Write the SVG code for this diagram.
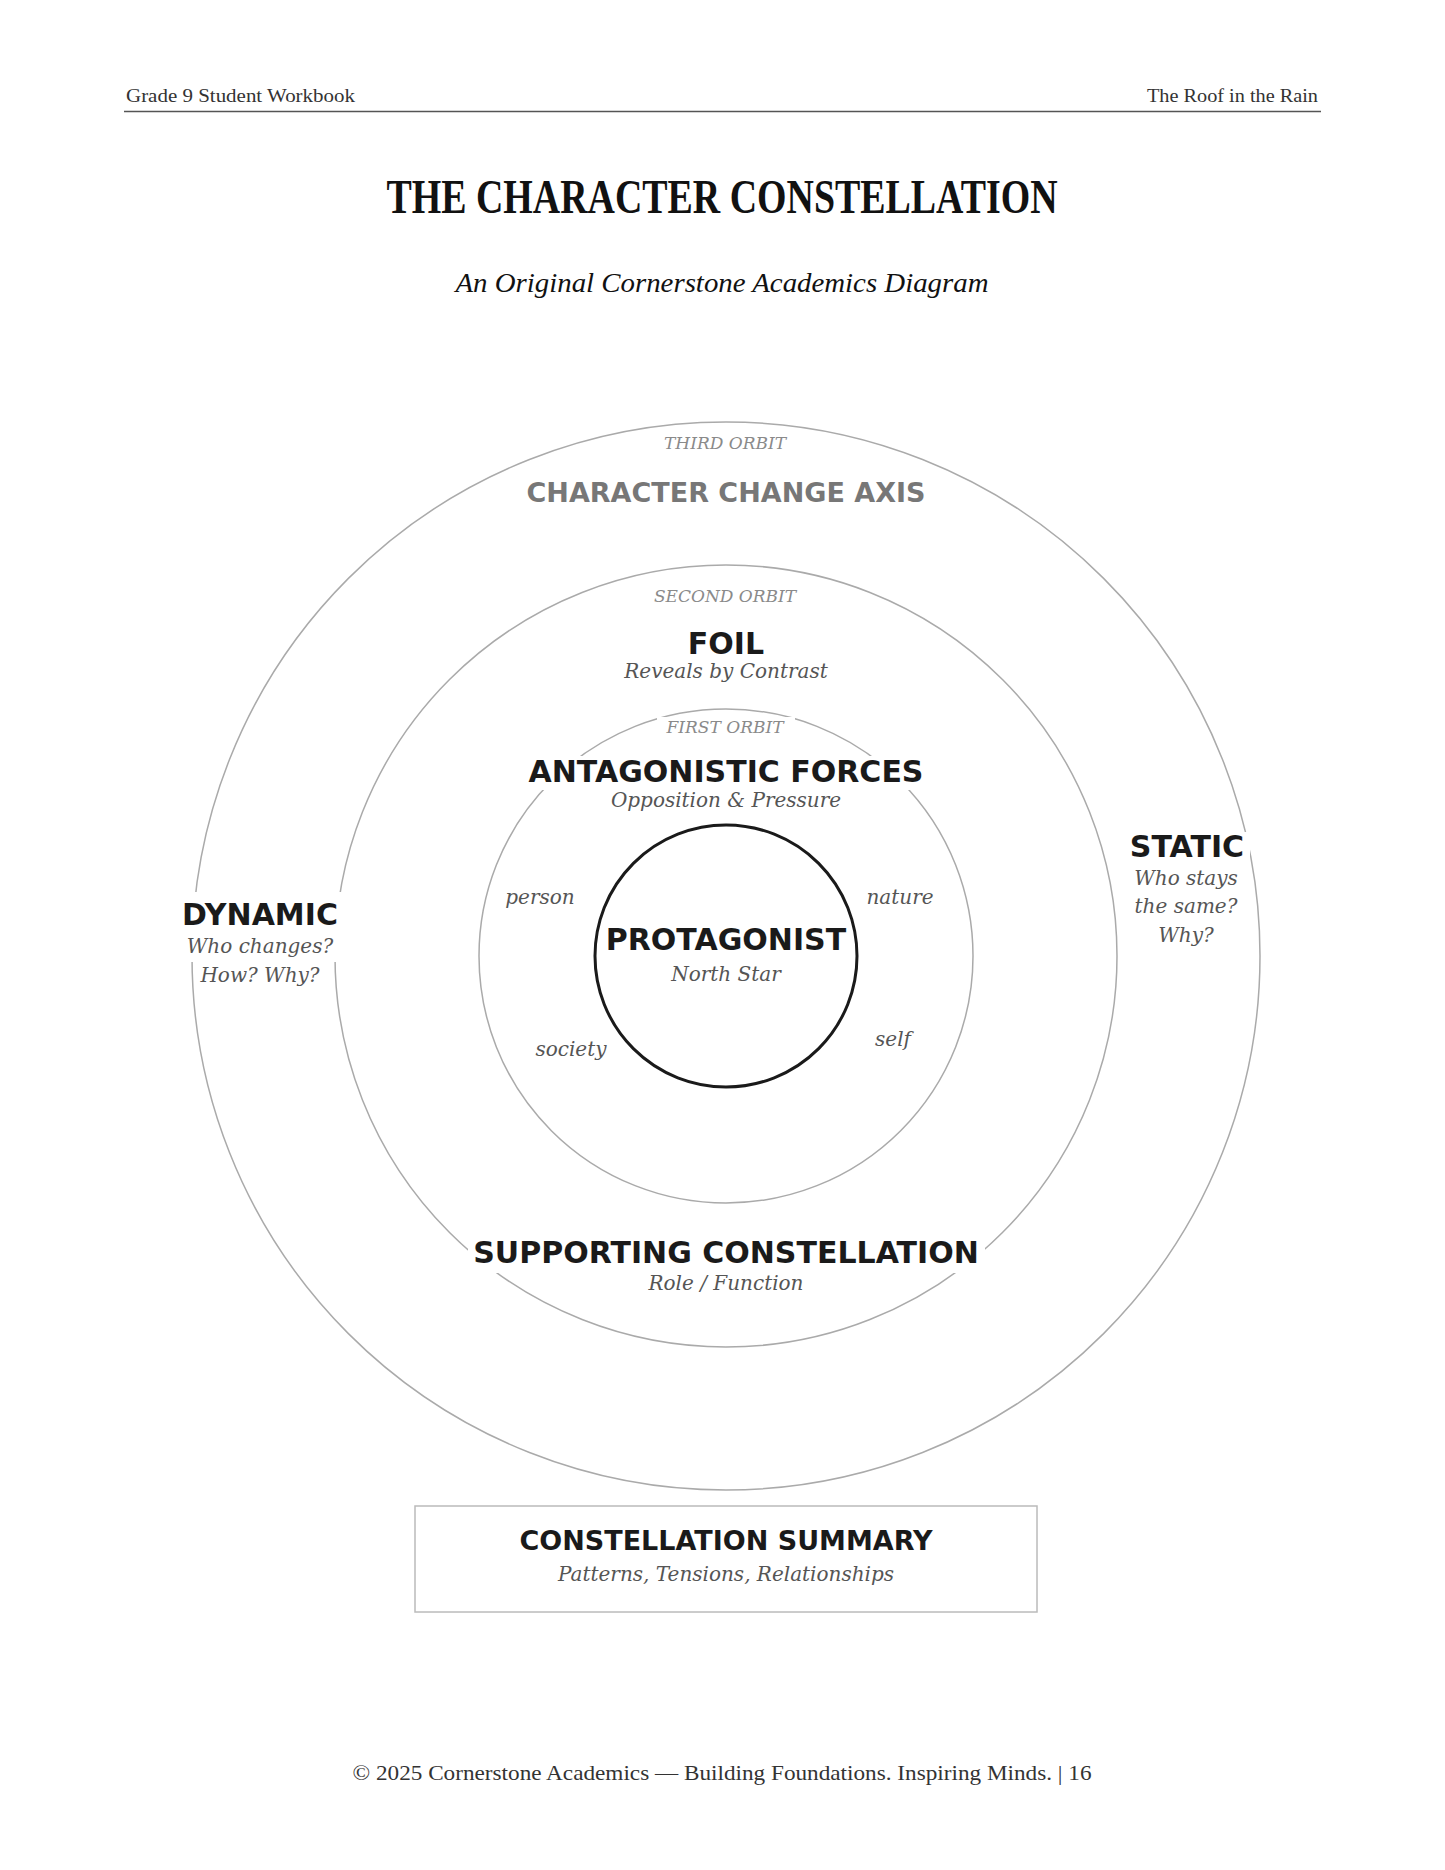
<svg xmlns="http://www.w3.org/2000/svg" width="1445" height="1870" viewBox="0 0 1445 1870">
<style>
.hdr{font-family:"Liberation Serif",serif;font-size:19px;fill:#333}
.ttl{font-family:"Liberation Serif",serif;font-weight:bold;font-size:48px;fill:#111}
.sub{font-family:"Liberation Serif",serif;font-style:italic;font-size:28px;fill:#111}
.orb{font-family:"DejaVu Serif",serif;font-style:italic;font-size:17px;fill:#8a8a8a}
.big{font-family:"DejaVu Sans",sans-serif;font-weight:bold;font-size:30px;fill:#1a1a1a}
.axis{font-family:"DejaVu Sans",sans-serif;font-weight:bold;font-size:27px;fill:#777}
.it{font-family:"DejaVu Serif",serif;font-style:italic;font-size:20px;fill:#555}
.ring{fill:none;stroke:#aaa;stroke-width:1.5}
.mask{fill:#fff}
.ftr{font-family:"Liberation Serif",serif;font-size:22px;fill:#333}
</style>
<rect width="1445" height="1870" fill="#fff"/>
<g id="header">
<text class="hdr" x="126" y="102" textLength="229" lengthAdjust="spacingAndGlyphs">Grade 9 Student Workbook</text>
<text class="hdr" x="1318" y="102" text-anchor="end" textLength="171" lengthAdjust="spacingAndGlyphs">The Roof in the Rain</text>
<line x1="124" y1="111.5" x2="1321" y2="111.5" stroke="#555" stroke-width="1.5"/>
</g>
<g id="title">
<text class="ttl" x="722" y="213" text-anchor="middle" textLength="671" lengthAdjust="spacingAndGlyphs">THE CHARACTER CONSTELLATION</text>
<text class="sub" x="722" y="292" text-anchor="middle" textLength="533" lengthAdjust="spacingAndGlyphs">An Original Cornerstone Academics Diagram</text>
</g>
<g id="orbits">
<circle id="third-orbit" class="ring" cx="726" cy="956" r="534"/>
<circle id="second-orbit" class="ring" cx="726" cy="956" r="391"/>
<circle id="first-orbit" class="ring" cx="726" cy="956" r="247" stroke="#999"/>
</g>
<g id="masks">
<rect class="mask" x="180" y="892" width="164" height="70"/>
<rect class="mask" x="1124" y="832" width="126" height="30"/>
<rect class="mask" x="657" y="717" width="138" height="21"/>
<rect class="mask" x="524" y="756" width="405" height="34"/>
<rect class="mask" x="468" y="1238" width="517" height="35"/>
</g>
<g id="third-orbit-labels">
<text class="orb" x="725" y="449" text-anchor="middle">THIRD ORBIT</text>
<text class="axis" x="726" y="502" text-anchor="middle">CHARACTER CHANGE AXIS</text>
</g>
<g id="foil">
<text class="orb" x="725" y="602" text-anchor="middle">SECOND ORBIT</text>
<text class="big" x="726" y="654" text-anchor="middle">FOIL</text>
<text class="it" x="726" y="678" text-anchor="middle">Reveals by Contrast</text>
</g>
<g id="antagonistic-forces">
<text class="orb" x="725" y="733" text-anchor="middle">FIRST ORBIT</text>
<text class="big" x="726" y="782" text-anchor="middle">ANTAGONISTIC FORCES</text>
<text class="it" x="726" y="807" text-anchor="middle">Opposition &amp; Pressure</text>
<text class="it" x="540" y="904" text-anchor="middle">person</text>
<text class="it" x="900" y="904" text-anchor="middle">nature</text>
<text class="it" x="571" y="1056" text-anchor="middle">society</text>
<text class="it" x="893" y="1046" text-anchor="middle">self</text>
</g>
<g id="protagonist">
<circle cx="726" cy="956" r="131" fill="none" stroke="#1a1a1a" stroke-width="3"/>
<text class="big" x="726" y="950" text-anchor="middle">PROTAGONIST</text>
<text class="it" x="726" y="981" text-anchor="middle">North Star</text>
</g>
<g id="dynamic">
<text class="big" x="260" y="925" text-anchor="middle">DYNAMIC</text>
<text class="it" x="260" y="953" text-anchor="middle">Who changes?</text>
<text class="it" x="260" y="982" text-anchor="middle">How? Why?</text>
</g>
<g id="static">
<text class="big" x="1187" y="857" text-anchor="middle">STATIC</text>
<text class="it" x="1186" y="885" text-anchor="middle">Who stays</text>
<text class="it" x="1186" y="913" text-anchor="middle">the same?</text>
<text class="it" x="1186" y="942" text-anchor="middle">Why?</text>
</g>
<g id="supporting-constellation">
<text class="big" x="726" y="1263" text-anchor="middle">SUPPORTING CONSTELLATION</text>
<text class="it" x="726" y="1290" text-anchor="middle">Role / Function</text>
</g>
<g id="summary">
<rect x="415" y="1506" width="622" height="106" fill="#fff" stroke="#bbb" stroke-width="1.5"/>
<text class="axis" x="726" y="1550" text-anchor="middle" fill="#1a1a1a" style="fill:#1a1a1a">CONSTELLATION SUMMARY</text>
<text class="it" x="726" y="1581" text-anchor="middle">Patterns, Tensions, Relationships</text>
</g>
<g id="connectors"></g>
<g id="footer">
<text class="ftr" x="722" y="1780" text-anchor="middle" textLength="739" lengthAdjust="spacingAndGlyphs">© 2025 Cornerstone Academics — Building Foundations. Inspiring Minds. | 16</text>
</g>
</svg>
